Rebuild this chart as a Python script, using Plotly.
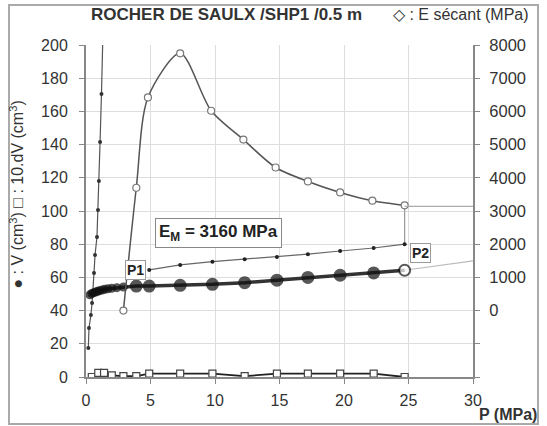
import plotly.graph_objects as go

# ---------------- data ----------------
# V (cm3) vs P (MPa) - filled circles
P_V = [0.3, 0.45, 0.6, 0.75, 0.9, 1.05, 1.25, 1.45, 1.7, 2.0, 2.4, 2.9,
       3.9, 4.9, 7.3, 9.8, 12.3, 14.8, 17.2, 19.7, 22.3, 24.7]
V = [49.5, 50.3, 50.8, 51.2, 51.6, 52.0, 52.4, 52.8, 53.1, 53.4, 53.8, 54.2,
     54.8, 54.8, 55.2, 55.8, 56.8, 58.3, 60.0, 61.3, 62.7, 64.3]

# 10.dV (cm3) - open squares
P_dV = [0.45, 0.95, 1.4, 2.0, 2.9, 3.9, 4.9, 7.3, 9.8, 12.3, 14.8, 17.2, 19.7, 22.3, 24.7]
dV10 = [0.0, 2.5, 2.5, 1.0, 0.5, 0.5, 2.0, 2.0, 2.0, 0.5, 2.0, 2.0, 2.0, 2.0, 0.0]

# E secant (MPa) - right axis
P_E = [2.9, 3.9, 4.8, 7.3, 9.7, 12.2, 14.7, 17.2, 19.7, 22.2, 24.7]
E = [0, 3700, 6420, 7750, 6020, 5150, 4310, 3890, 3560, 3310, 3170]

# steep initial curve (small dots)
P_S = [0.18, 0.23, 0.38, 0.47, 0.62, 0.7, 0.85, 0.93, 1.0, 1.09, 1.2, 1.32]
S = [17.5, 29.5, 37.3, 44.6, 62.6, 73.5, 84.3, 100.6, 118, 141.6, 170.5, 210]

# upper thin dotted curve
P_D = [4.9, 7.3, 9.8, 12.3, 14.8, 17.2, 19.7, 22.3, 24.7]
D = [64.5, 67.5, 69.5, 71.0, 72.3, 74.0, 75.9, 77.7, 80.0]

# extension of the P1-P2 line
P_X = [24.7, 30]
X_ext = [64.3, 70.0]

x_ticks = [0, 5, 10, 15, 20, 25, 30]
y_ticks = list(range(0, 201, 20))
y2_ticks = list(range(-2000, 8001, 1000))
y2_labels = ["" if v < 0 else str(v) for v in y2_ticks]

FONT = "Liberation Sans, Arial, sans-serif"
TXT = "#333333"

fig = go.Figure()

# E secant curve (right axis)
fig.add_trace(go.Scatter(
    x=P_E, y=E, yaxis="y2", mode="lines+markers", line_shape="spline",
    line=dict(color="#555555", width=1.5, smoothing=0.8),
    marker=dict(symbol="circle", size=7, color="white",
                line=dict(color="#777777", width=1.2)),
    showlegend=False))

# horizontal & vertical guide lines from last E point
fig.add_trace(go.Scatter(
    x=[P_E[-1], 30], y=[E[-1] - 30, E[-1] - 30], yaxis="y2", mode="lines",
    line=dict(color="#aaaaaa", width=1.2), showlegend=False))
fig.add_trace(go.Scatter(
    x=[P_E[-1], P_E[-1]], y=[D[-1], (E[-1] / 50) + 40], mode="lines",
    line=dict(color="#999999", width=1.2), showlegend=False))

# steep initial curve
fig.add_trace(go.Scatter(
    x=P_S, y=S, mode="lines+markers",
    line=dict(color="#555555", width=1.2),
    marker=dict(size=4, color="#333333"), showlegend=False))

# upper dotted line
fig.add_trace(go.Scatter(
    x=P_D, y=D, mode="lines+markers",
    line=dict(color="#666666", width=1.2),
    marker=dict(size=4, color="#222222"), showlegend=False))

# extension line
fig.add_trace(go.Scatter(
    x=P_X, y=X_ext, mode="lines",
    line=dict(color="#bbbbbb", width=1.2), showlegend=False))

# dV squares
fig.add_trace(go.Scatter(
    x=P_dV, y=dV10, mode="lines+markers",
    line=dict(color="#222222", width=1.8),
    marker=dict(symbol="square", size=7, color="white",
                line=dict(color="#444444", width=1.2)),
    showlegend=False))

# V circles
sizes = [7 if p < 3.5 else 11 for p in P_V]
colors = ["#111111"] * (len(P_V) - 1) + ["white"]
fig.add_trace(go.Scatter(
    x=P_V, y=V, mode="lines+markers",
    line=dict(color="#333333", width=3.5),
    marker=dict(symbol="circle", size=sizes, color=colors,
                line=dict(color="#111111", width=2)),
    showlegend=False))

axis_common = dict(
    showline=True, linecolor="#888888", linewidth=2,
    ticks="outside", ticklen=5, tickcolor="#888888",
)

fig.update_layout(
    width=547, height=426,
    margin=dict(l=86, r=74, t=45, b=49),
    paper_bgcolor="white", plot_bgcolor="white",
    font=dict(family=FONT, color=TXT),
    xaxis=dict(range=[0, 30], tickvals=x_ticks, showgrid=True,
               gridcolor="#dddddd", gridwidth=1, zeroline=False,
               ticklabelstandoff=3,
               tickfont=dict(family=FONT, size=16, color=TXT), **axis_common),
    yaxis=dict(range=[0, 200], tickvals=y_ticks, showgrid=True,
               gridcolor="#dddddd", gridwidth=1, zeroline=False,
               ticklabelstandoff=8,
               tickfont=dict(family=FONT, size=16, color=TXT), **axis_common),
    yaxis2=dict(range=[-2000, 8000], tickvals=y2_ticks, ticktext=y2_labels,
                overlaying="y", side="right", showgrid=False, zeroline=False,
                ticklabelstandoff=6,
                tickfont=dict(family=FONT, size=16.5, color=TXT), **axis_common),
    showlegend=False,
)

annotations = [
    dict(text="<b>ROCHER DE SAULX /SHP1 /0.5 m</b>", x=0.364, y=1.093,
         xref="paper", yref="paper", xanchor="center", yanchor="middle",
         showarrow=False, font=dict(size=17, color=TXT, family=FONT)),
    dict(text="◇ : E sécant (MPa)", x=0.968, y=1.093,
         xref="paper", yref="paper", xanchor="center", yanchor="middle",
         showarrow=False, font=dict(size=16, color=TXT, family=FONT)),
    dict(text="● : V (cm<sup>3</sup>) □ : 10.dV (cm<sup>3</sup>)",
         x=-0.178, y=0.55, xref="paper", yref="paper", textangle=-90,
         xanchor="center", yanchor="middle", showarrow=False,
         font=dict(size=16, color=TXT, family=FONT)),
    dict(text="<b>P (MPa)</b>", x=1.09, y=-0.113, xref="paper", yref="paper",
         xanchor="center", yanchor="middle", showarrow=False,
         font=dict(size=16, color=TXT, family=FONT)),
    dict(text="<b>E<sub>M</sub> = 3160 MPa</b>", x=10.3, y=86.5,
         xref="x", yref="y", showarrow=False, bgcolor="white",
         bordercolor="#888888", borderwidth=1, borderpad=3,
         font=dict(size=17, color="#222222", family=FONT)),
    dict(text="<b>P1</b>", x=3.85, y=64.5, xref="x", yref="y",
         showarrow=False, bgcolor="white", bordercolor="#999999",
         borderwidth=1, borderpad=1,
         font=dict(size=14, color="#222222", family=FONT)),
    dict(text="<b>P2</b>", x=25.9, y=74.5, xref="x", yref="y",
         showarrow=False, bgcolor="white", bordercolor="#999999",
         borderwidth=1, borderpad=1,
         font=dict(size=14, color="#222222", family=FONT)),
]
fig.update_layout(annotations=annotations)

# outer frame
fig.add_shape(type="rect", xref="paper", yref="paper",
              x0=(9 - 86) / 387, x1=(538 - 86) / 387,
              y0=(377 - 424) / 332, y1=(377 - 5) / 332,
              line=dict(color="#aaaaaa", width=2), layer="below")

fig.write_html("out.html")
